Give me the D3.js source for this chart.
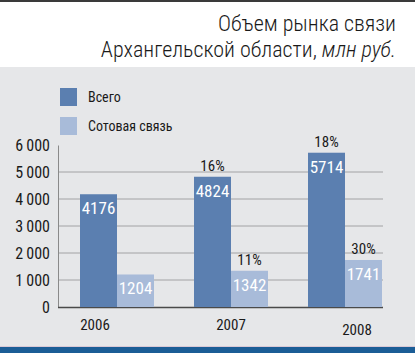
<!DOCTYPE html>
<html>
<head>
<meta charset="utf-8">
<script src="https://cdn.jsdelivr.net/npm/d3@7"></script>
<style>
  body { margin: 0; background: #fff; }
  svg text { font-family: "Liberation Sans Narrow", "Roboto Condensed", "Liberation Sans", sans-serif; }
</style>
</head>
<body>
<div id="chart"></div>
<script>
// data
var years = ["2006", "2007", "2008"];
var series = ["Всего", "Сотовая связь"];
var total = [4176, 4824, 5714];
var cellular = [1204, 1342, 1741];
var totalGrowth = [null, "16%", "18%"];
var cellularGrowth = [null, "11%", "30%"];
var yTicks = [0, 1000, 2000, 3000, 4000, 5000, 6000];
var tickLabels = ["0", "1\u2009000", "2\u2009000", "3\u2009000", "4\u2009000", "5\u2009000", "6\u2009000"];

var W = 415, H = 353;
var colors = ["#5b7fb0", "#a8bbd9"];

var svg = d3.select("#chart").append("svg")
    .attr("width", W)
    .attr("height", H);

// background pieces
svg.append("rect").attr("x", 0).attr("y", 0).attr("width", W).attr("height", H).attr("fill", "#fff");
svg.append("rect").attr("x", 0).attr("y", 0).attr("width", W).attr("height", 2).attr("fill", "#3a3a3a");
svg.append("rect").attr("x", 0).attr("y", 67).attr("width", W).attr("height", 280).attr("fill", "#e6e7e9");
svg.append("rect").attr("x", 0).attr("y", 346).attr("width", W).attr("height", 1).attr("fill", "#d9c9d6");
svg.append("rect").attr("x", 0).attr("y", 347).attr("width", W).attr("height", 6).attr("fill", "#1b5d96");

// title
var title = svg.append("text")
    .attr("text-anchor", "end")
    .attr("fill", "#1a1a1a")
    .style("font-size", "22px")
    .style("font-weight", "300");
title.append("tspan").attr("x", 396).attr("y", 31).text("Объем рынка связи");
var t2 = title.append("tspan").attr("x", 396).attr("y", 57);
t2.append("tspan").text("Архангельской области, ");
t2.append("tspan").style("font-style", "italic").text("млн  руб.");

// legend
var legend = svg.selectAll(".legend")
    .data(series)
    .join("g")
    .attr("class", "legend")
    .attr("transform", function (d, i) { return "translate(60," + (88 + i * 29) + ")"; });
legend.append("rect")
    .attr("width", 17).attr("height", 18)
    .attr("fill", function (d, i) { return colors[i]; });
legend.append("text")
    .attr("x", 28).attr("y", 14)
    .attr("fill", "#1a1a1a")
    .style("font-size", "14px")
    .text(function (d) { return d; });

// scales
var y = d3.scaleLinear().domain([0, 6000]).range([307, 145]);
var x0 = d3.scaleBand().domain(years).range([80, 422]).paddingInner(0).paddingOuter(0);
var barW = 37;

// gridlines
svg.selectAll(".grid")
    .data(yTicks.filter(function (d) { return d > 0 && d < 6000; }))
    .join("line")
    .attr("class", "grid")
    .attr("x1", 58).attr("x2", 383)
    .attr("y1", function (d) { return y(d); })
    .attr("y2", function (d) { return y(d); })
    .attr("stroke", "#a2a2a4")
    .attr("stroke-width", 1);

// y axis
var yAxis = d3.axisLeft(y)
    .tickValues(yTicks)
    .tickSize(0)
    .tickPadding(8)
    .tickFormat(function (d, i) { return tickLabels[i]; });
var gy = svg.append("g").attr("transform", "translate(58,0)").call(yAxis);
gy.attr("font-family", null);
gy.select(".domain").attr("stroke", "#8a8a8a").attr("stroke-width", 1);
gy.selectAll("text")
    .attr("fill", "#1a1a1a")
    .style("font-size", "16px")
    .attr("dy", "0.35em");

// baseline
svg.append("line")
    .attr("x1", 58).attr("x2", 383)
    .attr("y1", y(0) + 0.5).attr("y2", y(0) + 0.5)
    .attr("stroke", "#4a4a4a").attr("stroke-width", 1.5);

// bars
var rows = years.map(function (yr, i) {
    return [
        { year: yr, s: 0, v: total[i], g: totalGrowth[i] },
        { year: yr, s: 1, v: cellular[i], g: cellularGrowth[i] }
    ];
});
var groups = svg.selectAll(".grp")
    .data(rows)
    .join("g")
    .attr("class", "grp")
    .attr("transform", function (d, i) { return "translate(" + x0(years[i]) + ",0)"; });

var bars = groups.selectAll(".bar")
    .data(function (d) { return d; })
    .join("g")
    .attr("class", "bar");
bars.append("rect")
    .attr("x", function (d) { return d.s * barW; })
    .attr("width", barW)
    .attr("y", function (d) { return y(d.v); })
    .attr("height", function (d) { return y(0) - y(d.v); })
    .attr("fill", function (d) { return colors[d.s]; });
bars.append("text")
    .attr("x", function (d) { return d.s * barW + barW / 2; })
    .attr("y", function (d) { return y(d.v) + 20; })
    .attr("text-anchor", "middle")
    .attr("fill", "#fff")
    .style("font-size", "17px")
    .text(function (d) { return d.v; });
bars.filter(function (d) { return d.g; })
    .append("text")
    .attr("x", function (d) { return d.s * barW + barW / 2; })
    .attr("y", function (d) { return y(d.v) - 6; })
    .attr("text-anchor", "middle")
    .attr("fill", "#1a1a1a")
    .style("font-size", "15px")
    .text(function (d) { return d.g; });

// x labels (slightly shifted per year like the original)
var labelDx = [15, 37, 49];
var labelDy = [330, 330, 335];
svg.selectAll(".xlab")
    .data(years)
    .join("text")
    .attr("class", "xlab")
    .attr("x", function (d, i) { return x0(d) + labelDx[i]; })
    .attr("y", function (d, i) { return labelDy[i]; })
    .attr("text-anchor", "middle")
    .attr("fill", "#1a1a1a")
    .style("font-size", "15px")
    .text(function (d) { return d; });
</script>
</body>
</html>
